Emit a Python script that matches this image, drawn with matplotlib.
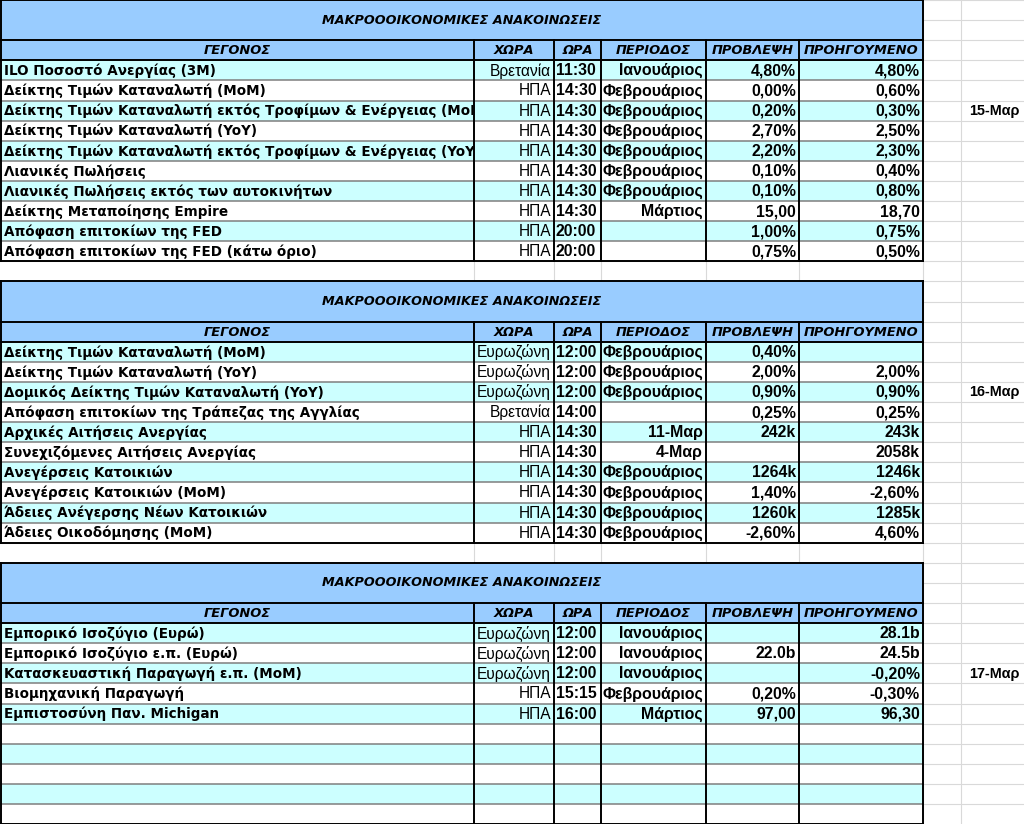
import matplotlib
matplotlib.use('Agg')
import matplotlib.pyplot as plt
from matplotlib.patches import Rectangle

# --- data -------------------------------------------------------------
title = 'ΜΑΚΡΟΟΟΙΚΟΝΟΜΙΚΕΣ ΑΝΑΚΟΙΝΩΣΕΙΣ'
headers = ['ΓΕΓΟΝΟΣ', 'ΧΩΡΑ', 'ΩΡΑ', 'ΠΕΡΙΟΔΟΣ', 'ΠΡΟΒΛΕΨΗ', 'ΠΡΟΗΓΟΥΜΕΝΟ']

dates = ['15-Μαρ', '16-Μαρ', '17-Μαρ']

events1 = ['ILO Ποσοστό Ανεργίας (3M)',
           'Δείκτης Τιμών Καταναλωτή (MoM)',
           'Δείκτης Τιμών Καταναλωτή εκτός Τροφίμων & Ενέργειας (MoM)',
           'Δείκτης Τιμών Καταναλωτή (YoY)',
           'Δείκτης Τιμών Καταναλωτή εκτός Τροφίμων & Ενέργειας (YoY)',
           'Λιανικές Πωλήσεις',
           'Λιανικές Πωλήσεις εκτός των αυτοκινήτων',
           'Δείκτης Μεταποίησης Empire',
           'Απόφαση επιτοκίων της FED',
           'Απόφαση επιτοκίων της FED (κάτω όριο)']
countries1 = ['Βρετανία'] + ['ΗΠΑ'] * 9
times1 = ['11:30'] + ['14:30'] * 7 + ['20:00', '20:00']
periods1 = ['Ιανουάριος'] + ['Φεβρουάριος'] * 6 + ['Μάρτιος', '', '']
forecast1 = ['4,80%', '0,00%', '0,20%', '2,70%', '2,20%', '0,10%', '0,10%', '15,00', '1,00%', '0,75%']
previous1 = ['4,80%', '0,60%', '0,30%', '2,50%', '2,30%', '0,40%', '0,80%', '18,70', '0,75%', '0,50%']

events2 = ['Δείκτης Τιμών Καταναλωτή (MoM)',
           'Δείκτης Τιμών Καταναλωτή (YoY)',
           'Δομικός Δείκτης Τιμών Καταναλωτή (YoY)',
           'Απόφαση επιτοκίων της Τράπεζας της Αγγλίας',
           'Αρχικές Αιτήσεις Ανεργίας',
           'Συνεχιζόμενες Αιτήσεις Ανεργίας',
           'Ανεγέρσεις Κατοικιών',
           'Ανεγέρσεις Κατοικιών (MoM)',
           'Άδειες Ανέγερσης Νέων Κατοικιών',
           'Άδειες Οικοδόμησης (MoM)']
countries2 = ['Ευρωζώνη'] * 3 + ['Βρετανία'] + ['ΗΠΑ'] * 6
times2 = ['12:00'] * 3 + ['14:00'] + ['14:30'] * 6
periods2 = ['Φεβρουάριος'] * 3 + ['', '11-Μαρ', '4-Μαρ'] + ['Φεβρουάριος'] * 4
forecast2 = ['0,40%', '2,00%', '0,90%', '0,25%', '242k', '', '1264k', '1,40%', '1260k', '-2,60%']
previous2 = ['', '2,00%', '0,90%', '0,25%', '243k', '2058k', '1246k', '-2,60%', '1285k', '4,60%']

events3 = ['Εμπορικό Ισοζύγιο (Ευρώ)',
           'Εμπορικό Ισοζύγιο ε.π. (Ευρώ)',
           'Κατασκευαστική Παραγωγή ε.π. (MoM)',
           'Βιομηχανική Παραγωγή',
           'Εμπιστοσύνη Παν. Michigan'] + [''] * 5
countries3 = ['Ευρωζώνη'] * 3 + ['ΗΠΑ', 'ΗΠΑ'] + [''] * 5
times3 = ['12:00'] * 3 + ['15:15', '16:00'] + [''] * 5
periods3 = ['Ιανουάριος'] * 3 + ['Φεβρουάριος', 'Μάρτιος'] + [''] * 5
forecast3 = ['', '22.0b', '', '0,20%', '97,00'] + [''] * 5
previous3 = ['28.1b', '24.5b', '-0,20%', '-0,30%', '96,30'] + [''] * 5

blocks = [
    (events1, countries1, times1, periods1, forecast1, previous1),
    (events2, countries2, times2, periods2, forecast2, previous2),
    (events3, countries3, times3, periods3, forecast3, previous3),
]

# --- layout -----------------------------------------------------------
W, H = 1024, 824
col_edges = [0, 474, 554, 601, 706, 799, 923]
extra_col = 961
row_h = 20.1
title_h = 2 * row_h
block_stride = 14 * row_h

blue = '#99CCFF'
cyan = '#CCFFFF'
grid = '#D9D9D9'

fig = plt.figure(figsize=(W / 100, H / 100), dpi=100)
ax = fig.add_axes([0, 0, 1, 1])
ax.set_xlim(0, W)
ax.set_ylim(H, 0)
ax.axis('off')

# sheet gridlines
y = 0.0
while y < H:
    ax.plot([0, W], [y, y], color=grid, lw=0.8, zorder=0)
    y += row_h
for x in col_edges[1:] + [extra_col]:
    ax.plot([x, x], [0, H], color=grid, lw=0.8, zorder=0)

name_font = dict(family='DejaVu Sans', weight='bold', size=9.75)
head_font = dict(family='DejaVu Sans', weight='bold', style='italic', size=9.4)
title_font = dict(family='DejaVu Sans', weight='bold', style='italic', size=9.2)
num_font = dict(family='Liberation Sans', weight='bold', size=11.4)
reg_font = dict(family='Liberation Sans', size=11.2)
date_font = dict(family='Liberation Sans', weight='bold', size=10.4)

x0, x_end = col_edges[0], col_edges[-1]
for b, cols in enumerate(blocks):
    top = b * block_stride
    head_top = top + title_h
    data_top = head_top + row_h
    bottom = data_top + 10 * row_h

    ax.add_patch(Rectangle((x0, top), x_end - x0, title_h + row_h,
                           facecolor=blue, edgecolor='none', zorder=1))
    ax.text((x0 + x_end) / 2, top + title_h / 2, title, ha='center', va='center',
            zorder=5, **title_font)

    for c, h in enumerate(headers):
        ax.text((col_edges[c] + col_edges[c + 1]) / 2, head_top + row_h / 2 + 0.5, h,
                ha='center', va='center', zorder=5, **head_font)

    events, countries, times, periods, forecast, previous = cols
    for r in range(10):
        ry = data_top + r * row_h
        cy = ry + row_h / 2 + 0.5
        ax.add_patch(Rectangle((x0, ry), x_end - x0, row_h,
                               facecolor=cyan if r % 2 == 0 else 'white',
                               edgecolor='none', zorder=1))
        if r > 0:
            ax.plot([x0, x_end], [ry, ry], color='#7F7F7F', lw=1.1, zorder=3)
        t = ax.text(col_edges[0] + 4, cy, events[r], ha='left', va='center',
                    zorder=5, clip_on=True, **name_font)
        t.set_clip_path(Rectangle((0, ry), col_edges[1] - 1, row_h, transform=ax.transData))
        ax.text(col_edges[2] - 3, cy, countries[r], ha='right', va='center', zorder=5, **reg_font)
        ax.text(col_edges[2] + 2, cy, times[r], ha='left', va='center', zorder=5, **num_font)
        ax.text(col_edges[4] - 3, cy, periods[r], ha='right', va='center', zorder=5, **num_font)
        ax.text(col_edges[5] - 3, cy, forecast[r], ha='right', va='center', zorder=5, **num_font)
        ax.text(col_edges[6] - 3, cy, previous[r], ha='right', va='center', zorder=5, **num_font)

    # black borders
    for yy in (top, head_top, data_top, bottom):
        ax.plot([x0, x_end], [yy, yy], color='black', lw=1.4, zorder=4)
    ax.plot([x0 + 0.5, x0 + 0.5], [top, bottom], color='black', lw=1.4, zorder=4)
    ax.plot([x_end, x_end], [top, bottom], color='black', lw=1.4, zorder=4)
    for x in col_edges[1:-1]:
        ax.plot([x, x], [head_top, bottom], color='black', lw=1.4, zorder=4)

    ax.text(1020, data_top + 2.5 * row_h + 0.5, dates[b], ha='right', va='center',
            zorder=5, **date_font)

fig.savefig('out.png', dpi=100)
